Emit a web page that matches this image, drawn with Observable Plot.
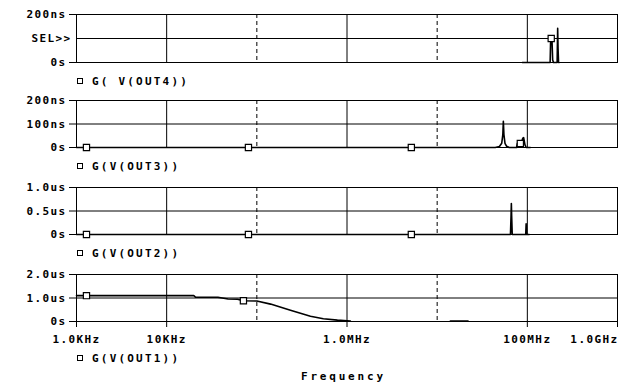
<!DOCTYPE html>
<html><head><meta charset="utf-8">
<script src="https://cdn.jsdelivr.net/npm/d3@7"></script>
<script src="https://cdn.jsdelivr.net/npm/@observablehq/plot@0.6"></script>
<style>
body{margin:0;background:#fff;}
#chart{position:relative;width:629px;height:387px;overflow:hidden;font-family:"DejaVu Sans Mono",monospace;font-weight:bold;color:#000;}
#chart svg{position:absolute;left:0;}
.lg{position:absolute;left:77px;font-size:11px;letter-spacing:2.2px;line-height:12px;white-space:pre;}
.lg .box{display:inline-block;width:4px;height:4px;border:1px solid #000;margin-right:9px;vertical-align:1px;}
.xt{position:absolute;font-size:11px;letter-spacing:2.8px;line-height:12px;white-space:pre;}
</style></head><body><div id="chart"></div>
<script>
// ---- shared axis data ----
const xTicks = [1e3, 1e4, 1e6, 1e8, 1e9];
const xTickLabels = ["1.0KHz", "10KHz", "1.0MHz", "100MHz", "1.0GHz"];
const xSolidGrid = [1e4, 1e6, 1e8];
const xDashedGrid = [1e5, 1e7];
const xTitle = "Frequency";

// ---- panel 1: G( V(OUT4)) in ns ----
const p1Name = "G( V(OUT4))";
const p1Freq  = [88e6, 170e6, 179e6, 181e6, 184e6, 188e6, 191e6, 195e6, 214e6, 217e6, 219e6, 222e6, 226e6];
const p1Value = [0,    0,     0,     80,    100,   85,    10,    0,     0,     142,   60,    0,     0];
const p1MarkFreq = [184e6];
const p1MarkValue = [100];
const p1YTicks = [0, 100, 200];
const p1YLabels = ["0s", "SEL>>", "200ns"];

// ---- panel 2: G(V(OUT3)) in ns ----
const p2Name = "G(V(OUT3))";
const p2Freq  = [1e3, 44e6, 49e6, 52e6, 53.5e6, 54.2e6, 55e6, 56.5e6, 59e6, 63e6, 76e6, 77.5e6, 86e6, 89e6, 91e6, 94e6, 97e6, 108e6];
const p2Value = [0,   0,    4,    18,   55,     112,    55,   18,     5,    0,    0,    18,     20,   40,   42,   12,   0,    0];
const p2MarkFreq = [1.29e3, 80.7e3, 5.17e6, 83.6e6];
const p2MarkValue = [0, 0, 0, 17];
const p2YTicks = [0, 100, 200];
const p2YLabels = ["0s", "100ns", "200ns"];

// ---- panel 3: G(V(OUT2)) in us ----
const p3Name = "G(V(OUT2))";
const p3Freq  = [1e3, 65e6, 66e6, 66.5e6, 67e6, 68e6, 96e6, 97e6, 97.5e6, 98e6, 105e6];
const p3Value = [0,   0,    0.4,  0.66,   0.4,  0,    0,    0.23,  0.1,    0,    0];
const p3MarkFreq = [1.29e3, 80.7e3, 5.17e6];
const p3MarkValue = [0, 0, 0];
const p3YTicks = [0, 0.5, 1.0];
const p3YLabels = ["0s", "0.5us", "1.0us"];

// ---- panel 4: G(V(OUT1)) in us ----
const p4Name = "G(V(OUT1))";
const p4Freq  = [1e3, 1.3e3, 20e3, 21e3, 37e3, 48e3, 61e3, 71e3, 100e3, 142e3, 236e3, 393e3, 547e3, 783e3, 1.09e6, 5e6, 14e6, 22e6];
const p4Value = [1.1, 1.1,   1.1,  1.03, 1.03, 0.96, 0.95, 0.88, 0.87,  0.74,  0.48,  0.22,  0.12,  0.06,  0.02,   NaN, 0.02, 0.02];
const p4MarkFreq = [1.29e3, 71e3];
const p4MarkValue = [1.1, 0.88];
const p4YTicks = [0, 1.0, 2.0];
const p4YLabels = ["0s", "1.0us", "2.0us"];

const panels = [
  {name: p1Name, freq: p1Freq, val: p1Value, mf: p1MarkFreq, mv: p1MarkValue, yt: p1YTicks, yl: p1YLabels, top: 14, h: 48, legendY: 76, sel: true},
  {name: p2Name, freq: p2Freq, val: p2Value, mf: p2MarkFreq, mv: p2MarkValue, yt: p2YTicks, yl: p2YLabels, top: 100, h: 47, legendY: 161},
  {name: p3Name, freq: p3Freq, val: p3Value, mf: p3MarkFreq, mv: p3MarkValue, yt: p3YTicks, yl: p3YLabels, top: 187, h: 47, legendY: 248},
  {name: p4Name, freq: p4Freq, val: p4Value, mf: p4MarkFreq, mv: p4MarkValue, yt: p4YTicks, yl: p4YLabels, top: 274, h: 47, legendY: 353, bottom: true}
];

const chart = document.getElementById("chart");
const mt = 10;
const lab = d => xTickLabels[xTicks.indexOf(d)];

panels.forEach(p => {
  const mb = p.bottom ? 30 : 10;
  const data = p.freq.map((f, i) => ({f, v: p.val[i]}));
  const marks = p.mf.map((f, i) => ({f, v: p.mv[i]}));
  const yMax = p.yt[p.yt.length - 1];
  const mid = p.yt[1];
  const axTicks = p.sel ? [p.yt[0], p.yt[2]] : p.yt;
  const m = [
    Plot.ruleY([mid], {stroke: "#000"}),
    Plot.ruleX(xSolidGrid, {stroke: "#000"}),
    Plot.ruleX(xDashedGrid, {stroke: "#000", strokeDasharray: "4,3"}),
    Plot.line(data, {x: "f", y: "v", stroke: "#000", strokeWidth: 1.6}),
    Plot.frame({stroke: "#000"}),
    Plot.dot(marks, {x: "f", y: "v", symbol: "square", r: 3.5, fill: "white", stroke: "#000", strokeWidth: 1.2}),
    Plot.axisY(axTicks, {tickSize: 7, tickPadding: 3, tickFormat: d => p.yl[p.yt.indexOf(d)], label: null})
  ];
  if (p.sel) {
    m.push(Plot.text([{y: mid, t: p.yl[1]}], {y: "y", text: "t", frameAnchor: "left", textAnchor: "end", dx: -5}));
  }
  if (p.bottom) {
    m.push(Plot.axisX(xTicks, {tickSize: 6, tickFormat: () => "", label: null}));
    m.push(Plot.text(xTicks.slice(0, 4), {x: d => d, text: lab, frameAnchor: "bottom", lineAnchor: "top", dy: 14}));
    m.push(Plot.text(xTicks.slice(4, 5), {x: d => d, text: lab, frameAnchor: "bottom", lineAnchor: "top", dy: 14, textAnchor: "end", dx: 1}));
  }
  const svg = Plot.plot({
    width: 629,
    height: p.h + mt + mb,
    marginLeft: 76, marginRight: 12, marginTop: mt, marginBottom: mb,
    x: {type: "log", domain: [1e3, 1e9], axis: null},
    y: {domain: [0, yMax], axis: null},
    style: {fontFamily: '"DejaVu Sans Mono", monospace', fontSize: "11px", fontWeight: "bold", letterSpacing: "1.4px", background: "transparent", overflow: "visible", color: "#000"},
    marks: m
  });
  svg.style.top = (p.top - mt) + "px";
  chart.appendChild(svg);
  const lg = document.createElement("div");
  lg.className = "lg";
  lg.style.top = p.legendY + "px";
  lg.innerHTML = '<span class="box"></span>';
  lg.appendChild(document.createTextNode(p.name));
  chart.appendChild(lg);
});

const xt = document.createElement("div");
xt.className = "xt";
xt.textContent = xTitle;
xt.style.top = "371px";
xt.style.left = "301px";
chart.appendChild(xt);
</script></body></html>
